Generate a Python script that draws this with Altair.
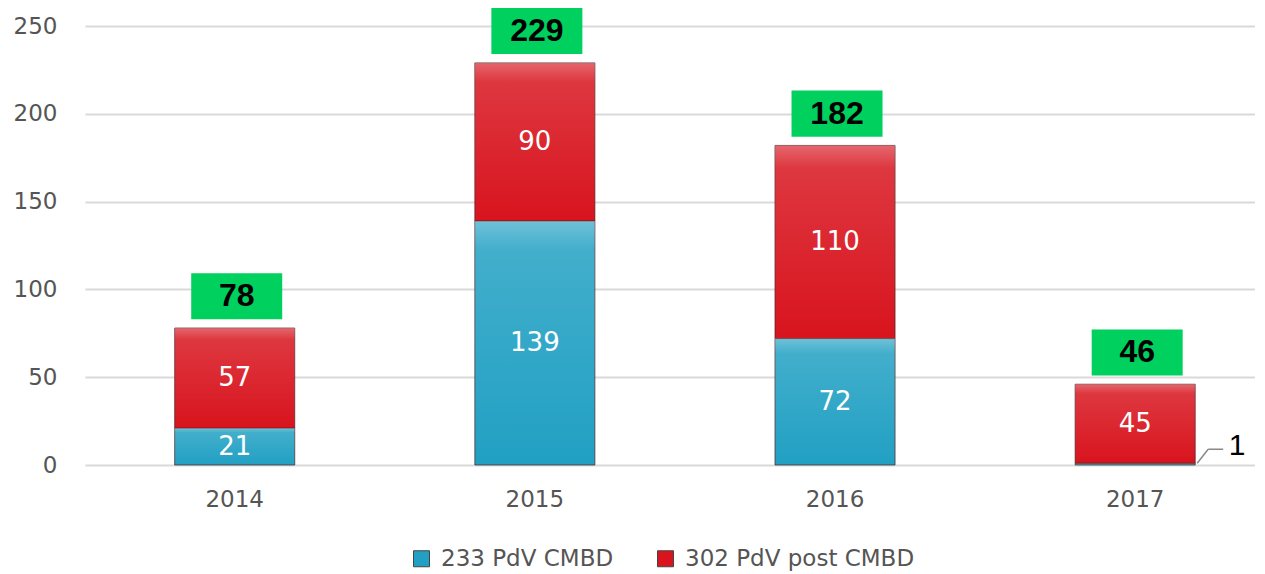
import altair as alt
import pandas as pd

years = ["2014", "2015", "2016", "2017"]
series = ["233 PdV CMBD", "302 PdV post CMBD"]
cmbd = [21, 139, 72, 1]
post_cmbd = [57, 90, 110, 45]
y_ticks = [0, 50, 100, 150, 200, 250]
colors = ["#21a0c3", "#d8141e"]

rows = []
for i, yr in enumerate(years):
    rows.append({"year": yr, "series": series[0], "value": cmbd[i], "order": 0})
    rows.append({"year": yr, "series": series[1], "value": post_cmbd[i], "order": 1})
df = pd.DataFrame(rows)

FONT = "DejaVu Sans"
xscale = alt.Scale(paddingInner=0.6, paddingOuter=0.249, align=0.6)
yscale = alt.Scale(domain=[0, 250], nice=False)
yaxis = alt.Axis(values=y_ticks, title=None)

base = alt.Chart(df).transform_stack(
    stack="value", groupby=["year"], as_=["v0", "v1"],
    sort=[alt.SortField("order", order="ascending")]
).transform_calculate(mid="(datum.v0 + datum.v1) / 2")

X = alt.X("year:N", scale=xscale, title=None, sort=years)


def Y(field):
    return alt.Y(field, scale=yscale, title=None, axis=yaxis)


bars = base.mark_bar(stroke="#4a2020", strokeWidth=1, strokeOpacity=0.7).encode(
    x=X,
    y=Y("v0:Q"),
    y2="v1:Q",
    color=alt.Color("series:N", scale=alt.Scale(domain=series, range=colors),
                    legend=alt.Legend(title=None, orient="none", direction="horizontal",
                                      legendX=325, legendY=521,
                                      symbolType="square", symbolSize=256,
                                      symbolStrokeColor="#444", symbolStrokeWidth=1,
                                      labelFont=FONT, labelFontSize=23, labelColor="#555",
                                      labelLimit=500,
                                      columnPadding=40, labelOffset=8)),
)

gloss = base.mark_bar(
    color=alt.LinearGradient(
        gradient="linear", x1=0, x2=0, y1=0, y2=1,
        stops=[alt.GradientStop(offset=0, color="rgba(255,255,255,0.35)"),
               alt.GradientStop(offset=0.12, color="rgba(255,255,255,0.15)"),
               alt.GradientStop(offset=1, color="rgba(255,255,255,0)")])
).encode(x=X, y=Y("v0:Q"), y2="v1:Q")

seg_labels = base.transform_filter("datum.value >= 5").mark_text(
    color="white", font=FONT, fontSize=26, baseline="middle"
).encode(x=X, y=Y("mid:Q"), text=alt.Text("value:Q"))

small_labels = base.transform_filter("datum.value < 5").mark_text(
    color="black", font="Liberation Sans", fontSize=30, baseline="middle", dx=102, dy=-17
).encode(x=X, y=Y("v1:Q"), text=alt.Text("value:Q"))

lead1 = base.transform_filter("datum.value < 5").mark_rule(
    color="#888", strokeWidth=1.5, xOffset=62, x2Offset=73, y2Offset=-14
).encode(x=X, x2="year:N", y=Y("v1:Q"), y2="v1:Q")

lead2 = base.transform_filter("datum.value < 5").mark_rule(
    color="#888", strokeWidth=1.5, xOffset=73, x2Offset=88, yOffset=-14, y2Offset=-14
).encode(x=X, x2="year:N", y=Y("v1:Q"), y2="v1:Q")

tops = base.transform_filter("datum.order == 1").transform_calculate(
    lo="datum.v1 + 5", hi="datum.v1 + 31.2", c="datum.v1 + 18.1")

boxes = tops.mark_bar(color="#00d05e", width=91, xOffset=2).encode(
    x=X, y=Y("lo:Q"), y2="hi:Q")

box_text = tops.mark_text(
    color="black", font="Liberation Sans", fontWeight="bold", fontSize=32,
    baseline="middle", dx=2
).encode(x=X, y=Y("c:Q"), text=alt.Text("v1:Q"))

chart = alt.layer(bars, gloss, seg_labels, small_labels, lead1, lead2, boxes, box_text).properties(
    width=1170, height=439,
    padding={"top": 0, "left": 5, "right": 0, "bottom": 0},
).configure_view(stroke=None).configure_axisX(
    labelAngle=0, ticks=False, domain=False, grid=False, labelFont=FONT,
    labelFontSize=23, labelColor="#555", labelPadding=23
).configure_axisY(
    ticks=False, domain=False, labelFont=FONT, labelFontSize=23, labelColor="#555",
    labelPadding=28, gridColor="#d9d9d9", gridWidth=2, minExtent=72, maxExtent=72
)

chart.save("out.html", embed_options={"renderer": "svg", "actions": False})
